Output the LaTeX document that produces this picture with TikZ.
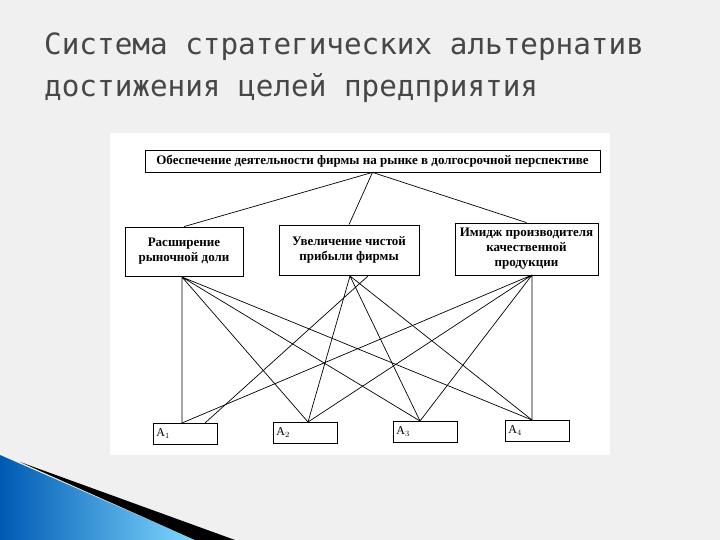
\documentclass[tikz,border=0pt]{standalone}
\usepackage{fontspec}
\setmainfont{Liberation Serif}
\newfontfamily\titlefont{DejaVu Sans Mono}
\begin{document}
\begin{tikzpicture}[x=1pt,y=-1pt,
  bx/.style={draw=black,line width=0.8pt,fill=white,inner sep=0pt,align=center,font=\fontsize{13}{15}\selectfont\bfseries},
  ab/.style={draw=black,line width=0.8pt,fill=white,inner sep=0pt,minimum width=64pt,minimum height=21pt,anchor=north west,text width=58pt,align=left,font=\fontsize{12}{12}\selectfont},
  ln/.style={line width=0.7pt}]
\useasboundingbox (0,0) rectangle (720,540);
\fill[gray!12] (0,0) rectangle (720,540);
\fill[white] (110,133) rectangle (610,455);
\shade[left color=cyan!50!blue!70!black,right color=cyan!70!blue!50] (0,455) -- (195,540) -- (0,540) -- cycle;
\fill[black] (20,462) -- (235,540) -- (195,540) -- cycle;
\node[anchor=west,text=black!72,font=\titlefont\fontsize{29.3}{30}\selectfont,inner sep=0pt] (t1) at (44,47) {Система стратегических альтернатив};
\node[anchor=west,text=black!72,font=\titlefont\fontsize{29.3}{30}\selectfont,inner sep=0pt] (t2) at (44,88) {достижения целей предприятия};
\node[bx,minimum width=455pt,minimum height=22pt] (top) at (372.5,161) {Обеспечение деятельности фирмы на рынке в долгосрочной перспективе};
\node[bx,minimum width=118pt,minimum height=49pt] (b1) at (184,251.5) {Расширение\\рыночной доли};
\node[bx,minimum width=140pt,minimum height=50pt] (b2) at (349,250) {Увеличение чистой\\прибыли фирмы};
\node[bx,minimum width=143pt,minimum height=52pt] (b3) at (526.5,249) {Имидж производителя\\качественной\\продукции};
\node[ab] (a1) at (153,423) {A$_1$};
\node[ab] (a2) at (273,422) {A$_2$};
\node[ab] (a3) at (393,421) {A$_3$};
\node[ab] (a4) at (505,420) {A$_4$};
\coordinate (p1) at (182,277); \coordinate (p2) at (350,276); \coordinate (p2b) at (368,276); \coordinate (p3) at (532,275);
\coordinate (q1) at (182,423); \coordinate (q1b) at (205,423); \coordinate (q2) at (308,422); \coordinate (q3) at (420,421); \coordinate (q4) at (532,420);
\draw[ln] (top.south) -- (b1.north) (top.south) -- (b2.north) (top.south) -- (b3.north);
\draw[ln] (p1) -- (q1) (p1) -- (q2) (p1) -- (q3) (p1) -- (q4);
\draw[ln] (p2b) -- (q1b) (p2) -- (q2) (p2) -- (q3) (p2) -- (q4);
\draw[ln] (p3) -- (q1) (p3) -- (q2) (p3) -- (q3) (p3) -- (q4);
\end{tikzpicture}
\end{document}
